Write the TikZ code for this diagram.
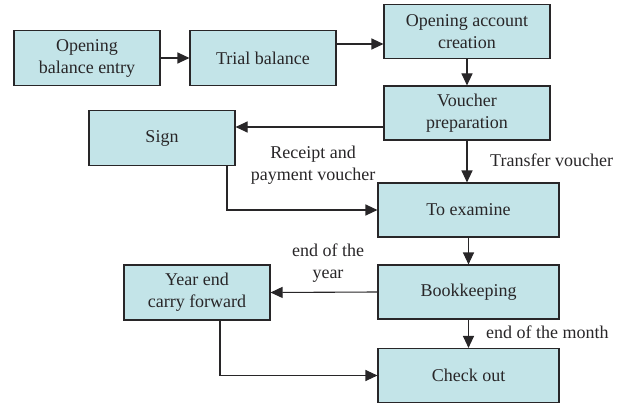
\documentclass[tikz,border=0pt]{standalone}
\usepackage{fontspec}
\setmainfont{Liberation Serif}
\usetikzlibrary{arrows.meta}
\definecolor{boxfill}{RGB}{195,228,232}
\definecolor{boxline}{RGB}{40,38,40}

\begin{document}
\begin{tikzpicture}[x=1pt, y=-1pt,
  stage/.style={draw=boxline, fill=boxfill, line width=1.1pt, align=center,
                inner sep=0pt, font=\fontsize{18}{22}\selectfont, text=boxline},
  wide/.style ={minimum width=146pt, minimum height=55pt},
  wider/.style={minimum width=166pt, minimum height=54pt},
  widest/.style={minimum width=181pt, minimum height=54pt},
  flow/.style ={draw=boxline, line width=1.1pt, -{Triangle[length=12pt,width=11pt]}},
  lbl/.style  ={font=\fontsize{18}{22}\selectfont, align=center, text=boxline, inner sep=0pt}]

  \useasboundingbox (0,0) rectangle (630,404);

  % ---------------- top row ----------------
  \node[stage,wide]  (obe)   at (87,58)    {Opening\\balance entry};
  \node[stage,wide]  (trial) at (263,58)   {Trial balance};
  \node[stage,wider] (oac)   at (467,31.5) {Opening account\\creation};

  % ---------------- main column ----------------
  \node[stage,wider]  (vp)    at (467,113)   {Voucher\\preparation};
  \node[stage,widest] (exam)  at (468.5,210) {To examine};
  \node[stage,widest] (book)  at (468.5,292) {Bookkeeping};
  \node[stage,widest] (check) at (468.5,375.5) {Check out};

  % ---------------- side boxes ----------------
  \node[stage,wide] (sign) at (162,138)   {Sign};
  \node[stage,wide] (year) at (197,292.5) {Year end\\carry forward};

  % ---------------- connectors ----------------
  \draw[flow] (obe.east) -- (trial.west);
  \draw[flow] ([yshift=14pt]trial.east) -- ([yshift=14pt]trial.east -| oac.west);
  \draw[flow] (oac.south) -- (vp.north);
  \draw[flow] ([yshift=-14pt]vp.west) -- ([yshift=-14pt]vp.west -| sign.east);
  \draw[flow] (vp.south) -- (vp.south |- exam.north);
  \draw[flow] ([xshift=65pt]sign.south) |- (exam.west);
  \draw[flow] (exam.south) -- (book.north);
  \draw[flow] (book.west) -- (year.east);
  \draw[flow] (book.south) -- (check.north);
  \draw[flow] ([xshift=23pt]year.south) |- (check.west);

  % ---------------- labels ----------------
  \node[lbl, anchor=west] (ltrans) at (490,160)   {Transfer voucher};
  \node[lbl]              (lrec)   at (313,165)   {Receipt and\\payment voucher};
  \node[lbl]              (lyear)  at (328,263)   {end of the\\year};
  \node[lbl, anchor=west] (lmonth) at (486,332)   {end of the month};
\end{tikzpicture}
\end{document}
